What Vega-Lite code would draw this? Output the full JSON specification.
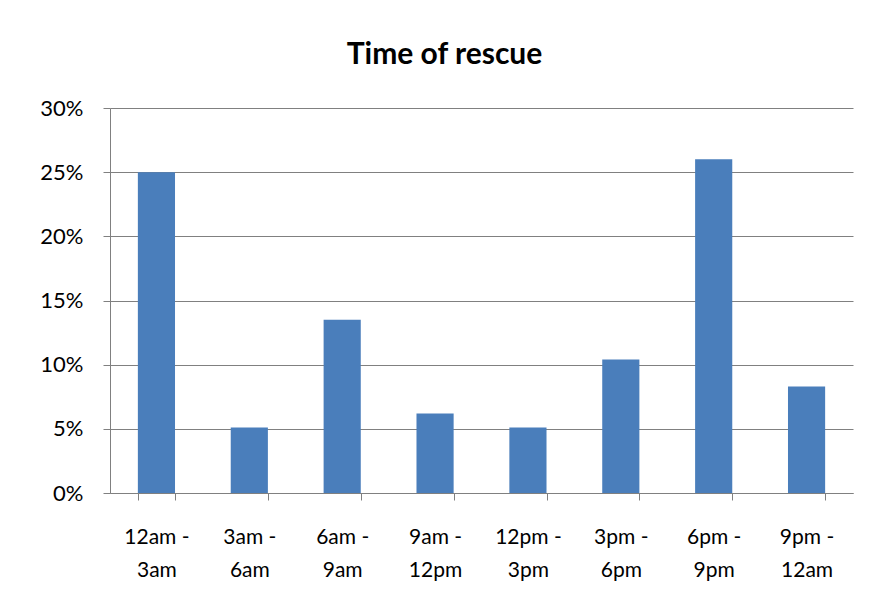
{
  "$schema": "https://vega.github.io/schema/vega-lite/v6.json",
  "width": 743,
  "height": 385,
  "autosize": {"type": "none"},
  "padding": {"left": 110, "top": 108, "right": 28, "bottom": 121},
  "background": "white",
  "title": {
    "text": "Time of rescue",
    "font": "Lato",
    "fontSize": 30,
    "fontWeight": "bold",
    "color": "#000000",
    "anchor": "middle",
    "offset": 27,
    "dx": -37
  },
  "data": {
    "values": [
      {"period": "12am - 3am", "share": 0.25},
      {"period": "3am - 6am", "share": 0.051},
      {"period": "6am - 9am", "share": 0.135},
      {"period": "9am - 12pm", "share": 0.062},
      {"period": "12pm - 3pm", "share": 0.051},
      {"period": "3pm - 6pm", "share": 0.104},
      {"period": "6pm - 9pm", "share": 0.26},
      {"period": "9pm - 12am", "share": 0.083}
    ]
  },
  "mark": {"type": "bar", "color": "#4A7EBB"},
  "encoding": {
    "x": {
      "field": "period",
      "type": "nominal",
      "sort": null,
      "scale": {"paddingInner": 0.6, "paddingOuter": 0.3},
      "axis": {
        "title": null,
        "labelAngle": 0,
        "labelFont": "Lato",
        "labelFontSize": 21,
        "labelColor": "#000000",
        "labelExpr": "isValid(datum.value) ? [split(datum.value, ' - ')[0] + ' -', split(datum.value, ' - ')[1]] : ''",
        "labelLineHeight": 33,
        "labelBaseline": "top",
        "labelPadding": 26,
        "tickBand": "extent",
        "tickSize": 7,
        "tickColor": "#808080",
        "domainColor": "#808080",
        "grid": false
      }
    },
    "y": {
      "field": "share",
      "type": "quantitative",
      "scale": {"domain": [0, 0.3]},
      "axis": {
        "title": null,
        "values": [0, 0.05, 0.1, 0.15, 0.2, 0.25, 0.3],
        "format": ".0%",
        "labelFont": "Lato",
        "labelFontSize": 22,
        "labelColor": "#000000",
        "labelPadding": 20,
        "tickSize": 7,
        "tickColor": "#808080",
        "domainColor": "#808080",
        "grid": true,
        "gridColor": "#808080",
        "gridOpacity": 1
      }
    }
  },
  "config": {"view": {"stroke": null}}
}
